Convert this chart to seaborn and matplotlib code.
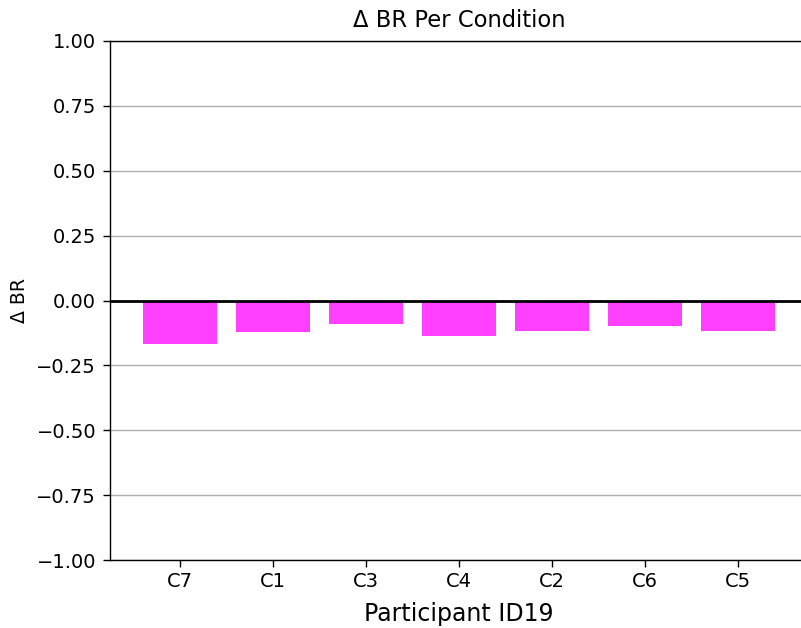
import matplotlib
matplotlib.use("Agg")
import matplotlib.pyplot as plt
import seaborn as sns
import pandas as pd

conditions = ["C7", "C1", "C3", "C4", "C2", "C6", "C5"]
delta_br = [-0.168, -0.122, -0.091, -0.138, -0.116, -0.099, -0.118]

df = pd.DataFrame({"condition": conditions, "delta_br": delta_br})

sns.set_style("white")
plt.rcParams["font.family"] = ["DejaVu Sans"]
plt.rcParams["text.color"] = "black"
plt.rcParams["axes.labelcolor"] = "black"
plt.rcParams["xtick.color"] = "black"
plt.rcParams["ytick.color"] = "black"

fig = plt.figure(figsize=(8.01, 6.28), dpi=100)
W, H = 801, 628
ax = fig.add_axes([110 / W, (H - 560) / H, 697.5 / W, 519 / H])

ax.yaxis.grid(True, color="#b0b0b0", linewidth=1.0, zorder=0)
ax.set_axisbelow(True)

sns.barplot(data=df, x="condition", y="delta_br", color="#ff40ff",
            saturation=1, width=0.8, linewidth=0, ax=ax, zorder=2)
ax.axhline(0, color="black", linewidth=2, zorder=3)

ax.set_ylim(-1.0, 1.0)
ax.set_xlim(-0.75, 6.75)
ax.set_yticks([-1.0, -0.75, -0.5, -0.25, 0.0, 0.25, 0.5, 0.75, 1.0])
ax.set_yticklabels([f"{v:.2f}".replace("-", "\u2212") for v in ax.get_yticks()])

for side in ["left", "top", "bottom"]:
    ax.spines[side].set_visible(True)
    ax.spines[side].set_color("black")
    ax.spines[side].set_linewidth(1.0)
ax.spines["right"].set_visible(False)

ax.tick_params(axis="both", which="major", labelsize=14, length=5, width=1,
               direction="out", bottom=True, left=True, color="black")
ax.tick_params(axis="y", pad=5)
ax.set_title("\u0394 BR Per Condition", fontsize=16.3, pad=10)
ax.set_xlabel("Participant ID19", fontsize=17, labelpad=8)
ax.set_ylabel("\u0394 BR", fontsize=13.5, labelpad=5)

fig.savefig("out.png", dpi=100)
